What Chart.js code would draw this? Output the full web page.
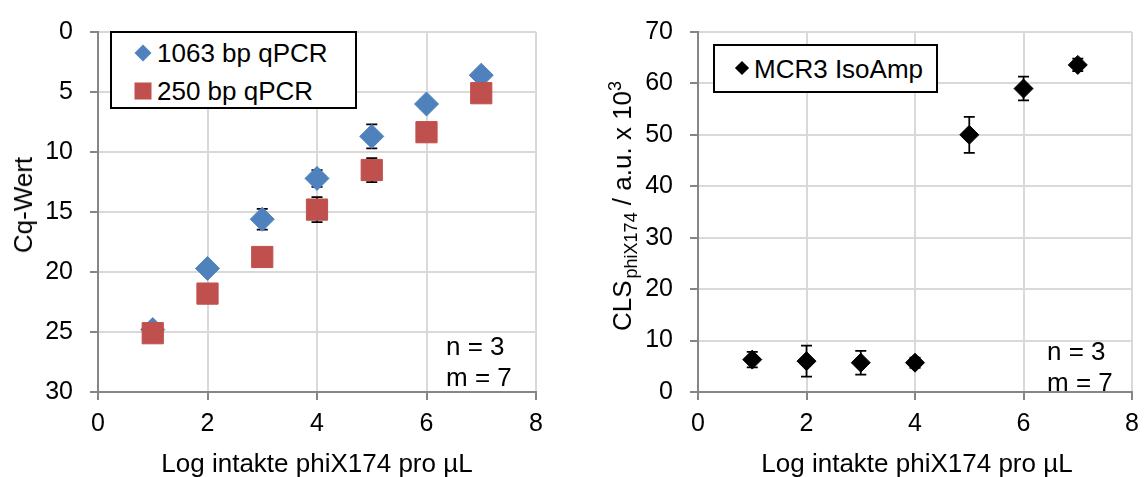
<!DOCTYPE html>
<html>
<head>
<meta charset="utf-8">
<script src="https://cdn.jsdelivr.net/npm/chart.js@4.4.0/dist/chart.umd.min.js"></script>
<style>
  html, body { margin: 0; padding: 0; background: #fff; overflow: hidden; }
  body { width: 1148px; height: 477px; position: relative; font-family: "Liberation Sans", Arial, sans-serif; color: #000; }
  canvas { position: absolute; top: 0; }
  #cqChart { left: 0; }
  #clsChart { left: 600px; }
  .txt { position: absolute; white-space: nowrap; font-size: 26px; line-height: 1; }
  .ytitle { transform: translate(-50%, -50%) rotate(-90deg); }
  .xtitle { transform: translate(-50%, -50%); }
  .ytitle sub, .ytitle sup { font-size: 18px; line-height: 0; }
  .ytitle sub { margin-left: 2px; }
  .legend { position: absolute; border: 2px solid #000; background: #fff; box-sizing: border-box; }
  .mark { position: absolute; transform: translate(-50%, -50%); }
  .note { position: absolute; font-size: 26px; line-height: 31px; white-space: nowrap; }
</style>
</head>
<body>
<canvas id="cqChart" width="574" height="477"></canvas>
<canvas id="clsChart" width="548" height="477"></canvas>

<!-- left chart texts -->
<div class="txt ytitle" style="left:23px; top:205px;">Cq-Wert</div>
<div class="txt xtitle" style="left:317px; top:463px;">Log intakte phiX174 pro µL</div>
<div class="legend" style="left:110px; top:31px; width:247px; height:78px;">
  <div class="mark" style="left:31px; top:20px; width:12px; height:12px; background:#4F81BD; transform:translate(-50%,-50%) rotate(45deg);"></div>
  <div class="txt" style="left:45px; top:7px;">1063 bp qPCR</div>
  <div class="mark" style="left:31px; top:58px; width:17px; height:17px; background:#C0504D;"></div>
  <div class="txt" style="left:45px; top:45px;">250 bp qPCR</div>
</div>
<div class="note" style="left:446px; top:331px;">n = 3<br>m = 7</div>

<!-- right chart texts -->
<div class="txt ytitle" style="left:622px; top:206px;">CLS<sub>phiX174</sub> / a.u. x 10<sup>3</sup></div>
<div class="txt xtitle" style="left:917px; top:463px;">Log intakte phiX174 pro µL</div>
<div class="legend" style="left:713px; top:44px; width:225px; height:49px;">
  <div class="mark" style="left:27px; top:22px; width:10px; height:10px; background:#000; transform:translate(-50%,-50%) rotate(45deg);"></div>
  <div class="txt" style="left:39px; top:10px;">MCR3 IsoAmp</div>
</div>
<div class="note" style="left:1047px; top:336px;">n = 3<br>m = 7</div>

<script>
const fontFamily = '"Liberation Sans", Arial, sans-serif';

// data
const logCopies = [1, 2, 3, 4, 5, 6, 7];

const cq1063 = [24.8, 19.7, 15.6, 12.2, 8.7, 6.0, 3.6];
const cq1063Err = [0.3, 0.3, 0.87, 0.7, 1.0, 0.3, 0.3];
const cq250 = [25.1, 21.8, 18.75, 14.8, 11.5, 8.35, 5.1];
const cq250Err = [0.3, 0.3, 0.3, 1.05, 1.0, 0.3, 0.3];

const clsIsoAmp = [6.3, 6.0, 5.7, 5.7, 50.0, 59.0, 63.6];
const clsIsoAmpErr = [1.5, 3.0, 2.3, 1.0, 3.5, 2.3, 1.2];

const xTickValues = [0, 2, 4, 6, 8];
const cqTickValues = [0, 5, 10, 15, 20, 25, 30];
const clsTickValues = [0, 10, 20, 30, 40, 50, 60, 70];

function toPoints(ys) {
  return logCopies.map((x, i) => ({ x, y: ys[i] }));
}

// error bars drawn behind the markers, like the excel original
const errorBarPlugin = {
  id: "errorBars",
  beforeDatasetsDraw(chart) {
    const ctx = chart.ctx;
    const xs = chart.scales.x;
    const ys = chart.scales.y;
    ctx.save();
    ctx.strokeStyle = "#000";
    ctx.lineWidth = 1.75;
    chart.data.datasets.forEach(ds => {
      if (!ds.errors) return;
      ds.data.forEach((p, j) => {
        const e = ds.errors[j];
        if (!e) return;
        const x = xs.getPixelForValue(p.x);
        const y1 = ys.getPixelForValue(p.y - e);
        const y2 = ys.getPixelForValue(p.y + e);
        ctx.beginPath();
        ctx.moveTo(x, y1); ctx.lineTo(x, y2);
        ctx.moveTo(x - 5.5, y1); ctx.lineTo(x + 5.5, y1);
        ctx.moveTo(x - 5.5, y2); ctx.lineTo(x + 5.5, y2);
        ctx.stroke();
      });
    });
    ctx.restore();
  }
};

function axisStyle(tickValues, extra) {
  return Object.assign({
    type: "linear",
    min: tickValues[0],
    max: tickValues[tickValues.length - 1],
    afterBuildTicks: scale => { scale.ticks = tickValues.map(v => ({ value: v })); },
    grid: { color: "#d9d9d9", lineWidth: 2, tickColor: "#868686", tickLength: 8, tickWidth: 2 },
    border: { color: "#868686", width: 2 }
  }, extra);
}

function makeChart(canvasId, datasets, yTicks, yReverse, rightPad) {
  return new Chart(document.getElementById(canvasId), {
    type: "scatter",
    data: { datasets },
    options: {
      responsive: false,
      animation: false,
      layout: { padding: { top: 20, right: rightPad, bottom: 0, left: 0 } },
      plugins: { legend: { display: false }, tooltip: { enabled: false } },
      scales: {
        x: axisStyle(xTickValues, {
          position: "bottom",
          afterFit: scale => { scale.height = 85; },
          ticks: { color: "#000", font: { family: fontFamily, size: 25 }, padding: 9 }
        }),
        y: axisStyle(yTicks, {
          position: "left",
          reverse: yReverse,
          afterFit: scale => { scale.width = 98; },
          ticks: { color: "#000", font: { family: fontFamily, size: 25 }, padding: 17 }
        })
      }
    },
    plugins: [errorBarPlugin]
  });
}

makeChart("cqChart", [
  {
    label: "1063 bp qPCR",
    data: toPoints(cq1063),
    errors: cq1063Err,
    pointStyle: "rectRot",
    pointRadius: 12,
    backgroundColor: "#4F81BD",
    borderColor: "#4F81BD",
    borderWidth: 1,
    order: 1
  },
  {
    label: "250 bp qPCR",
    data: toPoints(cq250),
    errors: cq250Err,
    pointStyle: "rect",
    pointRadius: 15,
    backgroundColor: "#C0504D",
    borderColor: "#C0504D",
    borderWidth: 1,
    order: 0
  }
], cqTickValues, true, 38);

makeChart("clsChart", [
  {
    label: "MCR3 IsoAmp",
    data: toPoints(clsIsoAmp),
    errors: clsIsoAmpErr,
    pointStyle: "rectRot",
    pointRadius: 9.5,
    backgroundColor: "#000",
    borderColor: "#000",
    borderWidth: 1
  }
], clsTickValues, false, 12);
</script>
</body>
</html>
